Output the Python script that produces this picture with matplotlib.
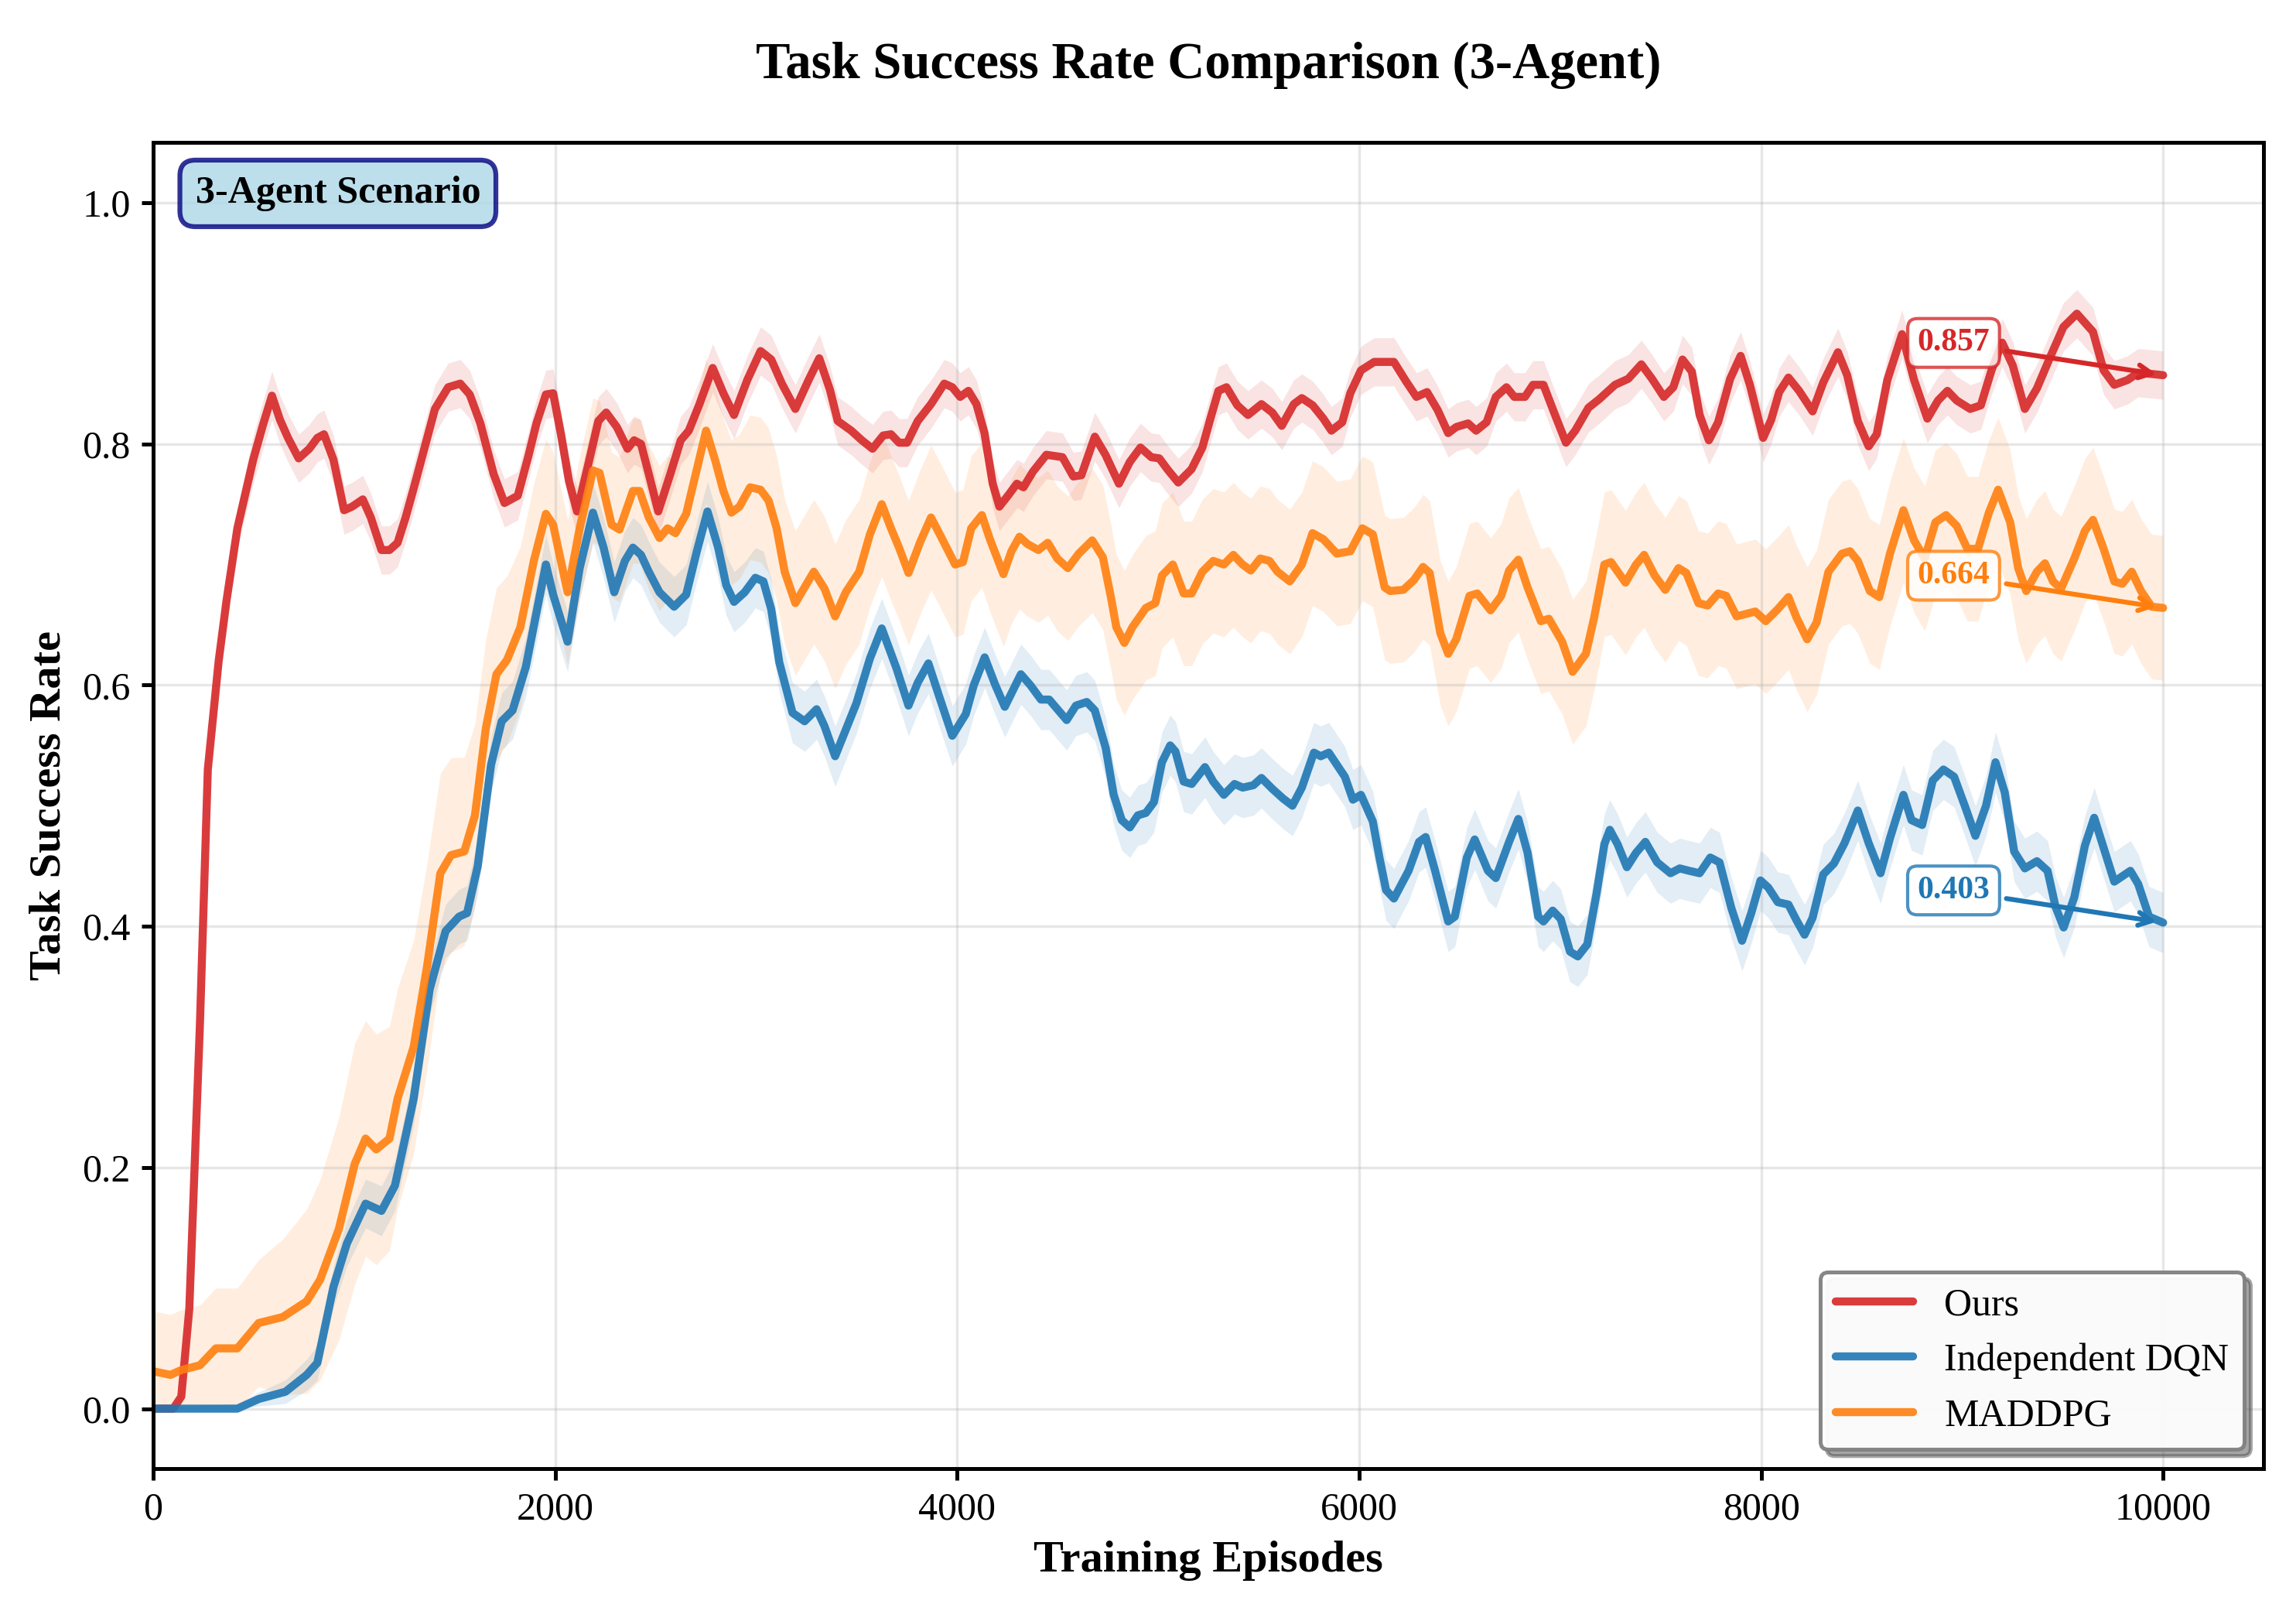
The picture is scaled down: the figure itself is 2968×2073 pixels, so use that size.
import numpy as np
import matplotlib.pyplot as plt

# Episodios / tasa de éxito suavizada
ours_ep = [0, 100, 140, 180, 233, 272, 326, 365, 419, 498, 545, 591, 631, 671, 724, 777, 817, 850, 897, 950,
           990, 1043, 1083, 1136, 1176, 1216, 1256, 1296, 1349, 1402, 1468, 1528, 1575, 1628, 1694, 1748, 1814, 1867, 1907, 1954,
           1990, 2029, 2069, 2109, 2162, 2215, 2254, 2307, 2360, 2393, 2427, 2466, 2513, 2573, 2625, 2665, 2718, 2784, 2837, 2890,
           2956, 3022, 3075, 3128, 3195, 3261, 3314, 3367, 3406, 3473, 3526, 3579, 3632, 3671, 3711, 3751, 3804, 3870, 3936, 3976,
           4015, 4056, 4096, 4136, 4177, 4210, 4257, 4297, 4330, 4377, 4444, 4524, 4578, 4618, 4685, 4738, 4805, 4859, 4912, 4966,
           5006, 5046, 5100, 5166, 5220, 5260, 5300, 5340, 5394, 5447, 5514, 5568, 5615, 5675, 5715, 5769, 5822, 5862, 5916, 5956,
           6009, 6075, 6127, 6173, 6233, 6285, 6338, 6391, 6443, 6483, 6542, 6582, 6634, 6680, 6733, 6772, 6825, 6865, 6917, 6970,
           7029, 7075, 7141, 7194, 7273, 7339, 7404, 7457, 7516, 7563, 7609, 7655, 7694, 7740, 7786, 7846, 7898, 7944, 8010, 8050,
           8090, 8136, 8189, 8256, 8309, 8382, 8428, 8481, 8535, 8575, 8628, 8701, 8761, 8827, 8880, 8927, 8973, 9040, 9093, 9146,
           9199, 9252, 9312, 9372, 9438, 9504, 9571, 9651, 9704, 9757, 9823, 9876, 9943, 10000]
ours_rate = [0.0, 0.0, 0.01, 0.083, 0.32, 0.53, 0.62, 0.67, 0.73, 0.787, 0.815, 0.84, 0.82, 0.805, 0.788, 0.796, 0.805, 0.808, 0.787, 0.745,
             0.748, 0.754, 0.739, 0.712, 0.712, 0.718, 0.739, 0.763, 0.796, 0.829, 0.847, 0.85, 0.841, 0.817, 0.775, 0.751, 0.757, 0.79, 0.817, 0.841,
             0.842, 0.808, 0.769, 0.744, 0.781, 0.819, 0.826, 0.814, 0.796, 0.803, 0.80, 0.775, 0.744, 0.775, 0.803, 0.811, 0.833, 0.863, 0.842, 0.824,
             0.853, 0.877, 0.870, 0.850, 0.829, 0.853, 0.871, 0.845, 0.819, 0.811, 0.803, 0.796, 0.807, 0.808, 0.801, 0.801, 0.819, 0.833, 0.850, 0.847,
             0.839, 0.844, 0.833, 0.809, 0.767, 0.748, 0.758, 0.767, 0.764, 0.777, 0.791, 0.789, 0.773, 0.774, 0.806, 0.791, 0.767, 0.785, 0.797, 0.789,
             0.788, 0.779, 0.768, 0.779, 0.797, 0.821, 0.844, 0.847, 0.832, 0.824, 0.833, 0.826, 0.815, 0.833, 0.838, 0.832, 0.821, 0.811, 0.818, 0.842,
             0.861, 0.868, 0.868, 0.868, 0.852, 0.839, 0.843, 0.828, 0.809, 0.814, 0.817, 0.811, 0.818, 0.839, 0.847, 0.839, 0.839, 0.849, 0.849, 0.826,
             0.801, 0.811, 0.83, 0.837, 0.849, 0.854, 0.866, 0.854, 0.839, 0.847, 0.870, 0.860, 0.824, 0.803, 0.818, 0.854, 0.873, 0.849, 0.805, 0.82,
             0.843, 0.855, 0.844, 0.827, 0.851, 0.876, 0.857, 0.819, 0.798, 0.808, 0.853, 0.891, 0.853, 0.821, 0.836, 0.844, 0.836, 0.829, 0.832, 0.861,
             0.884, 0.865, 0.829, 0.846, 0.872, 0.897, 0.908, 0.893, 0.861, 0.849, 0.853, 0.859, 0.858, 0.857]

dqn_ep = [0, 419, 525, 658, 764, 817, 897, 964, 1057, 1136, 1203, 1296, 1376, 1455, 1522, 1562, 1615, 1681, 1734, 1788,
          1854, 1921, 1954, 1990, 2062, 2122, 2188, 2241, 2294, 2347, 2387, 2427, 2466, 2519, 2592, 2652, 2705, 2758, 2811, 2851,
          2890, 2943, 2996, 3036, 3075, 3115, 3181, 3241, 3301, 3340, 3393, 3446, 3499, 3566, 3625, 3698, 3758, 3804, 3857, 3910,
          3976, 4043, 4083, 4137, 4190, 4237, 4317, 4364, 4417, 4458, 4545, 4591, 4645, 4685, 4739, 4779, 4819, 4859, 4899, 4939,
          4979, 5019, 5060, 5086, 5127, 5167, 5233, 5274, 5327, 5380, 5421, 5474, 5514, 5568, 5621, 5668, 5715, 5775, 5809, 5849,
          5929, 5969, 6009, 6068, 6101, 6134, 6173, 6246, 6298, 6331, 6378, 6443, 6476, 6536, 6575, 6641, 6680, 6746, 6792, 6838,
          6891, 6917, 6963, 7003, 7049, 7088, 7135, 7181, 7220, 7247, 7286, 7332, 7378, 7424, 7483, 7549, 7595, 7642, 7694, 7747,
          7793, 7852, 7905, 7951, 7997, 8036, 8083, 8136, 8176, 8216, 8256, 8309, 8362, 8415, 8481, 8535, 8594, 8641, 8708, 8748,
          8801, 8854, 8907, 8960, 9013, 9066, 9119, 9166, 9212, 9259, 9312, 9372, 9425, 9465, 9505, 9558, 9611, 9657, 9704, 9757,
          9837, 9876, 9930, 10000]
dqn_rate = [0.0, 0.0, 0.008, 0.014, 0.028, 0.038, 0.101, 0.137, 0.170, 0.164, 0.185, 0.257, 0.348, 0.396, 0.408, 0.411, 0.450, 0.534, 0.570, 0.579,
            0.615, 0.672, 0.700, 0.675, 0.636, 0.697, 0.743, 0.714, 0.677, 0.703, 0.714, 0.708, 0.694, 0.677, 0.665, 0.675, 0.711, 0.744, 0.714, 0.683,
            0.669, 0.677, 0.689, 0.686, 0.663, 0.619, 0.577, 0.570, 0.580, 0.566, 0.541, 0.563, 0.585, 0.622, 0.647, 0.614, 0.583, 0.602, 0.618, 0.591,
            0.558, 0.576, 0.600, 0.623, 0.600, 0.582, 0.609, 0.600, 0.588, 0.588, 0.571, 0.583, 0.586, 0.579, 0.548, 0.509, 0.488, 0.482, 0.492, 0.494,
            0.503, 0.536, 0.550, 0.545, 0.520, 0.518, 0.532, 0.520, 0.509, 0.518, 0.515, 0.517, 0.523, 0.514, 0.506, 0.500, 0.515, 0.544, 0.541, 0.544,
            0.524, 0.505, 0.509, 0.487, 0.457, 0.430, 0.423, 0.446, 0.470, 0.474, 0.446, 0.404, 0.408, 0.457, 0.472, 0.446, 0.440, 0.470, 0.489, 0.461,
            0.408, 0.404, 0.413, 0.406, 0.379, 0.375, 0.385, 0.427, 0.468, 0.480, 0.468, 0.449, 0.461, 0.470, 0.453, 0.444, 0.448, 0.446, 0.444, 0.457,
            0.453, 0.415, 0.388, 0.411, 0.438, 0.432, 0.420, 0.418, 0.405, 0.393, 0.407, 0.443, 0.452, 0.469, 0.496, 0.469, 0.444, 0.473, 0.509, 0.488,
            0.484, 0.521, 0.530, 0.524, 0.500, 0.475, 0.500, 0.536, 0.511, 0.462, 0.448, 0.454, 0.446, 0.416, 0.399, 0.424, 0.467, 0.490, 0.465, 0.437,
            0.446, 0.435, 0.408, 0.403]

maddpg_ep = [0, 86, 140, 233, 312, 419, 525, 645, 764, 831, 924, 1003, 1057, 1110, 1176, 1216, 1296, 1362, 1429, 1482,
             1548, 1601, 1655, 1708, 1761, 1827, 1894, 1954, 1990, 2062, 2122, 2188, 2221, 2281, 2320, 2387, 2420, 2466, 2519, 2559,
             2599, 2652, 2692, 2751, 2797, 2837, 2877, 2917, 2970, 3022, 3062, 3102, 3142, 3195, 3248, 3287, 3340, 3393, 3446, 3513,
             3566, 3625, 3671, 3711, 3758, 3817, 3870, 3923, 3990, 4029, 4070, 4123, 4163, 4230, 4270, 4310, 4350, 4404, 4451, 4498,
             4551, 4605, 4672, 4725, 4765, 4792, 4832, 4872, 4939, 4986, 5020, 5073, 5127, 5167, 5220, 5274, 5327, 5374, 5420, 5461,
             5508, 5554, 5594, 5655, 5715, 5768, 5822, 5889, 5956, 6016, 6068, 6127, 6154, 6220, 6272, 6318, 6351, 6404, 6443, 6483,
             6549, 6588, 6654, 6707, 6746, 6792, 6838, 6904, 6944, 7010, 7062, 7128, 7168, 7220, 7253, 7325, 7378, 7418, 7470, 7523,
             7589, 7628, 7688, 7734, 7786, 7826, 7878, 7971, 8023, 8083, 8136, 8176, 8229, 8276, 8335, 8402, 8442, 8481, 8541, 8588,
             8641, 8708, 8761, 8814, 8867, 8920, 8973, 9026, 9079, 9133, 9179, 9239, 9279, 9319, 9372, 9412, 9452, 9492, 9558, 9611,
             9651, 9704, 9757, 9797, 9844, 9890, 9943, 10000]
maddpg_rate = [0.031, 0.028, 0.032, 0.036, 0.050, 0.050, 0.071, 0.076, 0.089, 0.107, 0.149, 0.203, 0.224, 0.215, 0.224, 0.257, 0.300, 0.366, 0.444, 0.459,
               0.462, 0.492, 0.564, 0.609, 0.621, 0.648, 0.703, 0.742, 0.733, 0.677, 0.730, 0.778, 0.776, 0.733, 0.729, 0.761, 0.761, 0.739, 0.722, 0.730,
               0.726, 0.742, 0.770, 0.811, 0.786, 0.761, 0.743, 0.748, 0.764, 0.762, 0.753, 0.730, 0.694, 0.668, 0.683, 0.694, 0.680, 0.657, 0.677, 0.694,
               0.725, 0.750, 0.730, 0.714, 0.693, 0.719, 0.739, 0.722, 0.700, 0.702, 0.730, 0.741, 0.721, 0.692, 0.711, 0.723, 0.717, 0.712, 0.718, 0.705,
               0.697, 0.709, 0.720, 0.706, 0.673, 0.648, 0.635, 0.648, 0.664, 0.668, 0.691, 0.700, 0.676, 0.676, 0.694, 0.703, 0.700, 0.708, 0.700, 0.695,
               0.705, 0.703, 0.694, 0.686, 0.700, 0.726, 0.721, 0.709, 0.711, 0.730, 0.725, 0.681, 0.678, 0.679, 0.687, 0.698, 0.693, 0.643, 0.626, 0.638,
               0.674, 0.676, 0.662, 0.674, 0.695, 0.704, 0.681, 0.653, 0.655, 0.636, 0.611, 0.626, 0.655, 0.700, 0.702, 0.685, 0.700, 0.708, 0.691, 0.679,
               0.697, 0.693, 0.668, 0.666, 0.676, 0.674, 0.657, 0.661, 0.653, 0.663, 0.673, 0.656, 0.638, 0.652, 0.694, 0.709, 0.711, 0.703, 0.678, 0.673,
               0.709, 0.745, 0.720, 0.705, 0.735, 0.741, 0.732, 0.713, 0.713, 0.743, 0.762, 0.735, 0.697, 0.678, 0.694, 0.701, 0.686, 0.680, 0.705, 0.728,
               0.737, 0.713, 0.686, 0.684, 0.694, 0.678, 0.665, 0.664]

# Amplitud aproximada del ruido de los datos crudos (banda tenue)
band_ep = [0, 500, 1000, 2000, 10000]
ours_spread = [0.0, 0.02, 0.02, 0.02, 0.02]
dqn_spread = [0.0, 0.005, 0.02, 0.025, 0.025]
maddpg_spread = [0.05, 0.05, 0.10, 0.06, 0.06]

methods = ['Ours', 'Independent DQN', 'MADDPG']
colors = ['#d62728', '#1f77b4', '#ff7f0e']
series = [(ours_ep, ours_rate, ours_spread),
          (dqn_ep, dqn_rate, dqn_spread),
          (maddpg_ep, maddpg_rate, maddpg_spread)]

plt.rcParams['font.family'] = ['Liberation Serif', 'DejaVu Serif']

fig = plt.figure(figsize=(2968 / 300, 2073 / 300), dpi=300)
ax = fig.add_axes([0.0667, 0.0842, 0.9192, 0.8270])

for name, color, (ep, rate, spread) in zip(methods, colors, series):
    ep = np.array(ep)
    rate = np.array(rate)
    s = np.interp(ep, band_ep, spread)
    ax.fill_between(ep, np.clip(rate - s, 0, None), rate + s, color=color, alpha=0.13, linewidth=0)
    ax.plot(ep, rate, color=color, linewidth=2.5, alpha=0.9, label=name,
            solid_joinstyle='round', solid_capstyle='round')

# Valores finales
for color, (ep, rate, _) in zip(colors, series):
    ax.annotate(f'{rate[-1]:.3f}', xy=(ep[-1], rate[-1]), xytext=(-65, 10),
                textcoords='offset points', ha='center', va='center',
                fontsize=10, fontweight='bold', color=color,
                bbox=dict(boxstyle='round,pad=0.3', facecolor='white', edgecolor=color, alpha=0.8),
                arrowprops=dict(arrowstyle='->', color=color, lw=1.5))

ax.text(0.02, 0.975, '3-Agent Scenario', transform=ax.transAxes, fontsize=12,
        fontweight='bold', va='top', ha='left',
        bbox=dict(boxstyle='round,pad=0.4', facecolor='lightblue', edgecolor='navy', alpha=0.8, linewidth=1.5))

ax.set_xlim(0, 10500)
ax.set_ylim(-0.05, 1.05)
ax.set_xticks([0, 2000, 4000, 6000, 8000, 10000])
ax.set_yticks([0.0, 0.2, 0.4, 0.6, 0.8, 1.0])
ax.tick_params(labelsize=12, width=1.2)
for sp in ax.spines.values():
    sp.set_linewidth(1.2)

ax.set_title('Task Success Rate Comparison (3-Agent)', fontsize=16, fontweight='bold', pad=20)
ax.set_xlabel('Training Episodes', fontsize=14, fontweight='bold')
ax.set_ylabel('Task Success Rate', fontsize=14, fontweight='bold')
ax.grid(True, alpha=0.3)

leg = ax.legend(loc='lower right', fontsize=12, frameon=True, fancybox=True,
                shadow=True, framealpha=0.95, edgecolor='gray')
leg.get_frame().set_linewidth(1.2)

plt.savefig('out.png', dpi=300)
